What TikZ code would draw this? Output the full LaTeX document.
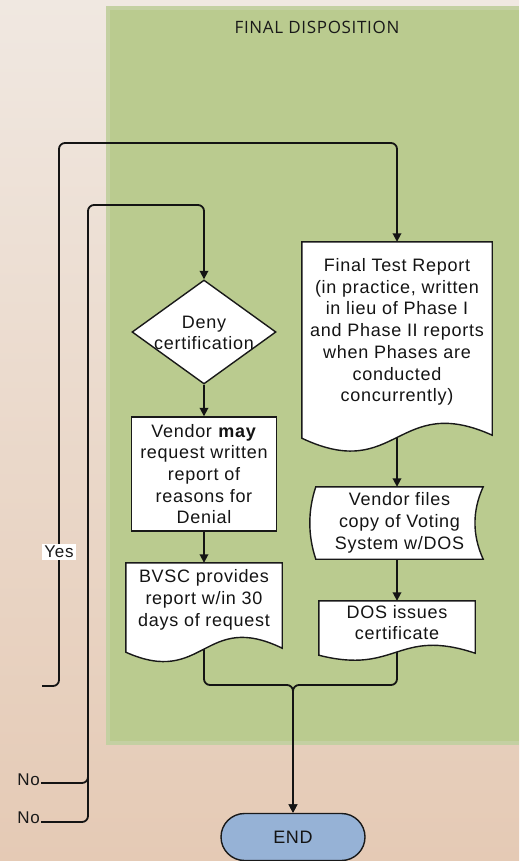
\documentclass[tikz,border=0pt]{standalone}
\usepackage{fontspec}
\setmainfont{Liberation Sans}[LetterSpace=4]
\newfontfamily\titlefont{Open Sans}[LetterSpace=4]
\usetikzlibrary{shapes.geometric,arrows.meta,calc}
\pgfdeclarelayer{back}
\pgfdeclarelayer{lines}
\pgfdeclarelayer{shapes}
\pgfsetlayers{back,lines,shapes,main}
\definecolor{bgtop}{HTML}{F0E8E1}
\definecolor{bgbot}{HTML}{E5CAB5}
\definecolor{panel}{HTML}{BACB8F}
\definecolor{panelrim}{HTML}{C4D0A2}
\definecolor{endblue}{HTML}{96B2D6}
\tikzset{
 txt/.style={font=\fontsize{18pt}{21.7pt}\selectfont, align=center, text=black!92},
 conn/.style={line width=1.8pt, draw=black!92, rounded corners=6pt},
 arr/.style={conn, -{Triangle[length=8.5pt,width=8.5pt]}},
 boxst/.style={txt, draw=black!90, line width=1.4pt, fill=white, inner sep=0pt},
 docnode/.style={txt, inner sep=0pt},
 lbl/.style={font=\fontsize{17pt}{20pt}\selectfont, text=black!90, inner sep=2pt},
 shapeline/.style={draw=black!90, line width=1.4pt, fill=white}
}
\newcommand{\docshape}[5]{%
 \filldraw[shapeline] (#1.north west) -- (#1.north east) -- ([yshift={-(#2-#5)*1pt}]#1.south east) .. controls ([yshift={-(#2-#4)*1pt}]#1.south) and ([yshift={-(#2+#3)*1pt}]#1.south) .. ([yshift={-#2*1pt}]#1.south west) -- cycle;}
\begin{document}
\begin{tikzpicture}[x=1pt,y=-1pt]
\useasboundingbox (0,0) rectangle (519,861);
\begin{pgfonlayer}{back}
\shade[top color=bgtop,bottom color=bgbot] (0,0) rectangle (519,861);
\fill[panelrim] (106,6) rectangle (519,745);
\fill[panel] (110,10) rectangle (519,741);
\end{pgfonlayer}

\node[font=\titlefont\fontsize{17pt}{20pt}\selectfont, text=black!90] (title) at (317,27) {FINAL DISPOSITION};

\node[draw=black!90, line width=1.4pt, fill=white, shape=diamond, minimum width=144pt, minimum height=104pt, inner sep=0pt] (deny) at (204,332) {};
\node[txt] (denytext) at (204,333) {Deny\\certification};
\node[boxst, minimum width=145pt, minimum height=114pt] (vmay) at (204,474) {Vendor \textbf{may}\\request written\\report of\\reasons for\\Denial};
\node[docnode, minimum width=156pt, minimum height=74pt] (bvsc) at (204,600) {BVSC provides\\report w/in 30\\days of request};
\node[docnode, minimum width=190pt, minimum height=180pt] (final) at (397,332) {Final Test Report\\(in practice, written\\in lieu of Phase I\\and Phase II reports\\when Phases are\\conducted\\concurrently)};
\node[docnode, minimum width=167pt, minimum height=72pt] (vfiles) at (399.5,523) {Vendor files\\copy of Voting\\System w/DOS};
\node[docnode, minimum width=156pt, minimum height=43pt] (dos) at (397,622.5) {DOS issues\\certificate};
\node[txt, draw=black!90, line width=1.4pt, fill=endblue, rounded corners=23.5pt, minimum width=144pt, minimum height=47pt, inner sep=0pt] (endn) at (293,837) {END};

\node[lbl, fill=white] (yes) at (59,552) {Yes};
\node[lbl, anchor=east, inner sep=1pt] (no1) at (41,780) {No};
\node[lbl, anchor=east, inner sep=1pt] (no2) at (41,818) {No};

\begin{pgfonlayer}{shapes}
\docshape{bvsc}{15}{35}{42}{4}
\docshape{final}{16}{45}{46}{3}
\docshape{dos}{11}{20}{28}{2}
\filldraw[shapeline] (vfiles.north west) -- (vfiles.north east) .. controls ([xshift=-11pt,yshift=-24pt]vfiles.north east) and ([xshift=-11pt,yshift=24pt]vfiles.south east) .. (vfiles.south east) -- (vfiles.south west) .. controls ([xshift=-8pt,yshift=24pt]vfiles.south west) and ([xshift=-8pt,yshift=-24pt]vfiles.north west) .. (vfiles.north west) -- cycle;
\end{pgfonlayer}

\begin{pgfonlayer}{lines}
\coordinate (yesend) at (42,686);
\coordinate (mj) at (293,685);
\draw[arr] (yesend) -- (59,686) -- (59,143) -- (397,143) -- (final.north);
\draw[arr] ([yshift=-3pt]no1.east) -- (88,783) -- (88,205) -- (204,205) -- (deny.north);
\draw[conn] ([yshift=-4pt]no2.east) -- (88,822) -- (88,700);
\draw[arr] (deny.south) -- (vmay.north);
\draw[arr] (vmay.south) -- (bvsc.north);
\draw[arr] (final.south) -- (final.south |- vfiles.north);
\draw[arr] (dos.north |- vfiles.south) -- (dos.north);
\draw[arr] (bvsc.south) -- (bvsc.south |- mj) -- (mj) -- (endn.north);
\draw[arr] (dos.south) -- (dos.south |- mj) -- (mj) -- (endn.north);
\end{pgfonlayer}
\end{tikzpicture}
\end{document}
